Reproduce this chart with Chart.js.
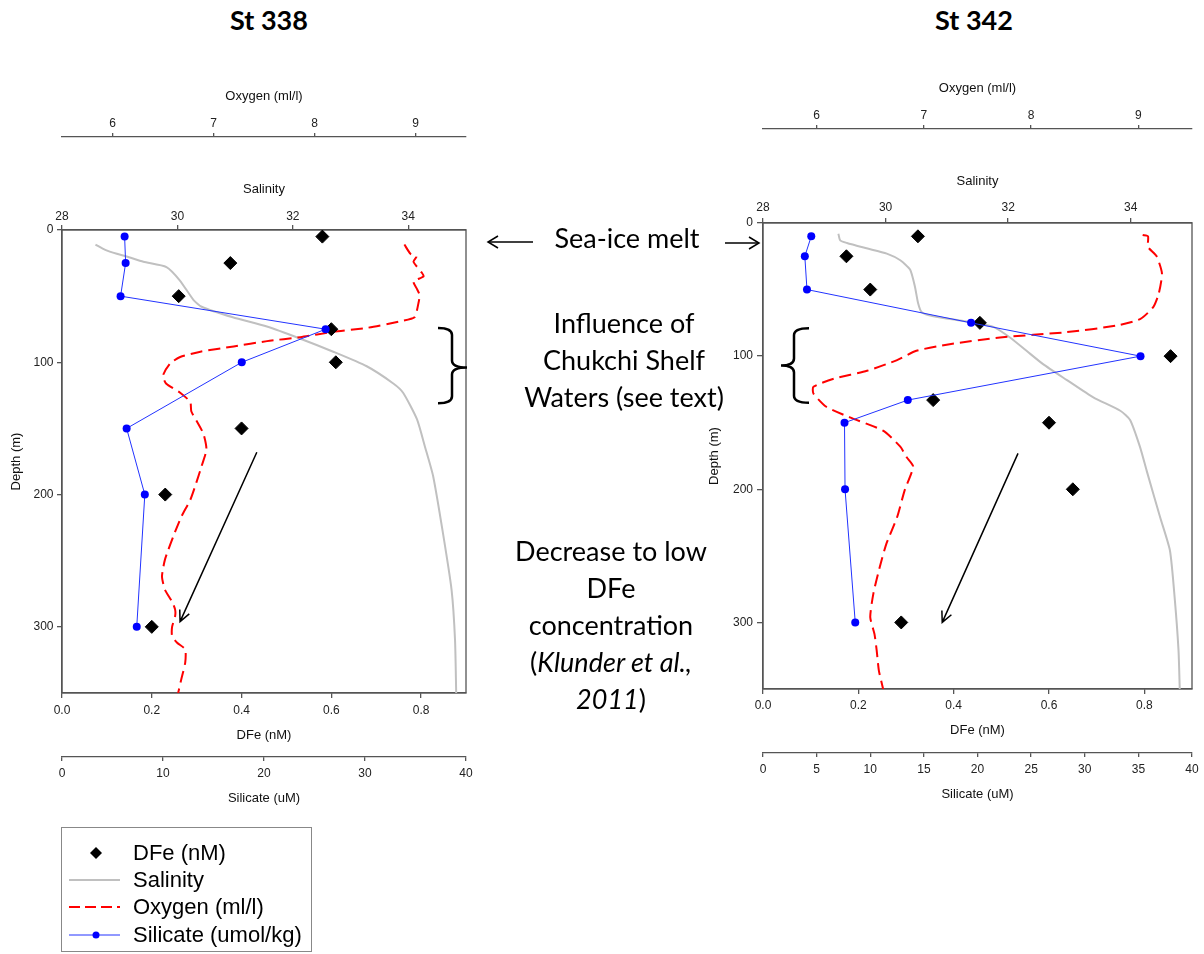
<!DOCTYPE html>
<html>
<head>
<meta charset="utf-8">
<script src="https://cdn.jsdelivr.net/npm/chart.js@4.4.1/dist/chart.umd.min.js"></script>
<style>
  body { margin: 0; background: #fff; width: 1204px; height: 954px; position: relative; overflow: hidden; font-family: 'Liberation Sans', Arial, sans-serif; }
  canvas { position: absolute; top: 0; }
  .st { position: absolute; top: 4px; width: 200px; text-align: center; font: bold 27px Lato, sans-serif; line-height: 32px; }
  .note { position: absolute; width: 320px; text-align: center; font: 27px Lato, sans-serif; line-height: 37px; color: #000; }
  #legend { position: absolute; left: 61px; top: 827px; width: 251px; height: 125px; border: 1px solid #888; box-sizing: border-box; }
  #legend .row { position: absolute; left: 0; height: 27px; width: 250px; }
  #legend svg { position: absolute; left: 6px; top: 0; }
  #legend span { position: absolute; left: 71px; top: 1px; font-size: 22px; line-height: 26px; color: #000; }
  #over { position: absolute; left: 0; top: 0; pointer-events: none; }
</style>
</head>
<body>
<div class="st" style="left:169px">St 338</div>
<div class="st" style="left:874px">St 342</div>

<canvas id="c338" width="490" height="820" style="left:0"></canvas>
<canvas id="c342" width="504" height="820" style="left:700px"></canvas>

<div class="note" style="left:467px; top:219px">Sea-ice melt</div>
<div class="note" style="left:464px; top:304px">Influence of<br>Chukchi Shelf<br>Waters (see text)</div>
<div class="note" style="left:451px; top:532px">Decrease to low<br>DFe<br>concentration<br>(<i>Klunder et al.,</i><br><i>2011</i>)</div>

<svg id="over" width="1204" height="954">
  <g stroke="#000" stroke-width="1.5" fill="none">
    <line x1="533" y1="242" x2="488" y2="242"/>
    <polyline points="498,236 488,242 498,248"/>
    <line x1="725" y1="243" x2="759" y2="243"/>
    <polyline points="749,237 759,243 749,249"/>
  </g>
</svg>

<div id="legend">
  <div class="row" style="top:11px">
    <svg width="60" height="27"><path d="M28 8 L34 14 L28 20 L22 14 Z" fill="#000"/></svg>
    <span>DFe (nM)</span>
  </div>
  <div class="row" style="top:38px">
    <svg width="60" height="27"><line x1="1" y1="14" x2="52" y2="14" stroke="#c0c0c0" stroke-width="2"/></svg>
    <span>Salinity</span>
  </div>
  <div class="row" style="top:65px">
    <svg width="60" height="27"><line x1="1" y1="14" x2="52" y2="14" stroke="#ff0000" stroke-width="2" stroke-dasharray="11 5"/></svg>
    <span>Oxygen (ml/l)</span>
  </div>
  <div class="row" style="top:93px">
    <svg width="60" height="27"><line x1="1" y1="14" x2="52" y2="14" stroke="#2233ff" stroke-width="1"/><circle cx="28" cy="14" r="3.5" fill="#0000ff"/></svg>
    <span>Silicate (umol/kg)</span>
  </div>
</div>

<script>
// St 338 bottle samples
const depth338 = [5, 25, 50, 75, 100, 150, 200, 300];
const dfe338 = [0.58, 0.375, 0.26, 0.60, 0.61, 0.40, 0.23, 0.20];
const sil338 = [6.2, 6.3, 5.8, 26.1, 17.8, 6.4, 8.2, 7.4];

// St 338 CTD profiles
const salDepth338 = [11, 15, 18, 20, 24, 28, 38, 53, 58, 66, 73, 82, 92, 103, 116, 123, 143, 164, 186, 229, 272, 310, 350];
const sal338 = [28.58, 28.75, 28.95, 29.12, 29.41, 29.81, 30.04, 30.28, 30.42, 30.96, 31.55, 32.12, 32.70, 33.28, 33.74, 33.91, 34.15, 34.29, 34.43, 34.60, 34.75, 34.81, 34.83];
const oxyDepth338 = [11, 18, 20, 24, 32, 35, 39, 44, 49, 55, 66, 69, 74, 77, 81, 84, 88, 92, 96, 101, 110, 116, 123, 130, 137, 144, 154, 166, 179, 191, 204, 217, 232, 249, 262, 272, 281, 287, 292, 300, 307, 312, 317, 327, 340, 350];
const oxy338 = [8.89, 8.95, 9.01, 8.98, 9.06, 9.08, 8.98, 9.01, 9.04, 9.03, 8.99, 8.85, 8.52, 8.19, 7.86, 7.53, 7.20, 6.87, 6.67, 6.57, 6.50, 6.53, 6.67, 6.77, 6.78, 6.83, 6.90, 6.93, 6.88, 6.83, 6.77, 6.68, 6.60, 6.52, 6.49, 6.52, 6.59, 6.62, 6.62, 6.59, 6.59, 6.64, 6.72, 6.72, 6.68, 6.65];

// St 342 bottle samples
const depth342 = [10, 25, 50, 75, 100, 133, 150, 200, 300];
const dfe342 = [0.325, 0.175, 0.225, 0.455, 0.855, 0.357, 0.60, 0.65, 0.29];
const sil342 = [4.5, 3.9, 4.1, 19.4, 35.2, 13.5, 7.6, 7.65, 8.6];

// St 342 CTD profiles
const salDepth342 = [8, 13, 15, 19, 23, 28, 35, 48, 60, 67, 70, 74, 78, 86, 96, 106, 118, 131, 141, 148, 168, 186, 221, 246, 283, 321, 350];
const sal342 = [29.23, 29.26, 29.37, 29.69, 30.02, 30.24, 30.40, 30.48, 30.53, 30.59, 30.78, 31.32, 31.76, 32.03, 32.30, 32.57, 32.96, 33.39, 33.83, 33.99, 34.15, 34.26, 34.48, 34.64, 34.72, 34.78, 34.80];
const oxyDepth342 = [9, 10, 18, 25, 38, 53, 63, 72, 77, 82, 86, 91, 96, 103, 111, 117, 123, 128, 138, 146, 156, 168, 176, 183, 201, 221, 241, 258, 278, 296, 309, 321, 336, 350];
const oxy342 = [9.04, 9.09, 9.09, 9.17, 9.22, 9.19, 9.14, 9.02, 8.80, 8.33, 7.71, 7.24, 6.93, 6.75, 6.47, 6.16, 5.97, 5.97, 6.09, 6.31, 6.62, 6.78, 6.84, 6.90, 6.82, 6.75, 6.65, 6.59, 6.53, 6.50, 6.54, 6.56, 6.58, 6.62];

// tick labels
const oxyTicks = [6, 7, 8, 9];
const salTicks = [28, 30, 32, 34];
const dfeTicks = [0, 0.2, 0.4, 0.6, 0.8];
const silTicks338 = [0, 10, 20, 30, 40];
const silTicks342 = [0, 5, 10, 15, 20, 25, 30, 35, 40];
const depthTicks = [0, 100, 200, 300];

const pts = (xs, ys) => xs.map((x, i) => ({ x: x, y: ys[i] }));

function axis(pos, min, max, ticks, title, o) {
  return {
    type: 'linear', position: pos, min: min, max: max, reverse: !!o.reverse, weight: o.weight || 0,
    afterBuildTicks: s => { s.ticks = ticks.map(v => ({ value: v })); },
    afterFit: s => { if (pos === 'left') s.width = o.size; else s.height = o.size; },
    border: { color: '#555', width: 1.3 },
    grid: { drawOnChartArea: false, tickLength: o.tl, color: '#555', lineWidth: 1.3 },
    ticks: { padding: o.tp, color: '#222', font: { size: 12 }, callback: o.fmt || (v => v) },
    title: { display: true, text: title, color: '#111', font: { size: 13 }, padding: o.title }
  };
}

function arrowHead(ctx, x0, y0, x1, y1) {
  const a = Math.atan2(y1 - y0, x1 - x0), L = 12;
  ctx.beginPath();
  ctx.moveTo(x0, y0); ctx.lineTo(x1, y1);
  ctx.moveTo(x1 - L * Math.cos(a - 0.45), y1 - L * Math.sin(a - 0.45));
  ctx.lineTo(x1, y1);
  ctx.lineTo(x1 - L * Math.cos(a + 0.45), y1 - L * Math.sin(a + 0.45));
  ctx.stroke();
}

function brace(ctx, xEnd, xBody, xTip, yTop, yMid, yBot) {
  const r = 7;
  ctx.beginPath();
  ctx.moveTo(xEnd, yTop);
  ctx.quadraticCurveTo(xBody, yTop, xBody, yTop + r);
  ctx.lineTo(xBody, yMid - r);
  ctx.quadraticCurveTo(xBody, yMid, xTip, yMid);
  ctx.quadraticCurveTo(xBody, yMid, xBody, yMid + r);
  ctx.lineTo(xBody, yBot - r);
  ctx.quadraticCurveTo(xBody, yBot, xEnd, yBot);
  ctx.stroke();
}

const notes = {
  id: 'notes',
  beforeDatasetsDraw(chart) {
    const { ctx, chartArea: a } = chart;
    ctx.save();
    ctx.strokeStyle = '#555'; ctx.lineWidth = 1.3;
    ctx.strokeRect(a.left, a.top, a.right - a.left, a.bottom - a.top);
    ctx.restore();
  },
  afterDatasetsDraw(chart, args, o) {
    const { ctx, chartArea: a, scales } = chart;
    const x = scales.dfe, y = scales.depth;
    ctx.save();
    ctx.strokeStyle = '#000'; ctx.lineWidth = 1.5;
    const [d0, z0, d1, z1] = o.arrow;
    arrowHead(ctx, x.getPixelForValue(d0), y.getPixelForValue(z0), x.getPixelForValue(d1), y.getPixelForValue(z1));
    ctx.lineWidth = 2.5;
    const b = o.brace;
    const yt = y.getPixelForValue(b.top), ym = y.getPixelForValue(b.mid), yb = y.getPixelForValue(b.bottom);
    if (b.side === 'right') brace(ctx, a.right - 28, a.right - 14, a.right + 1, yt, ym, yb);
    else brace(ctx, a.left + 46, a.left + 31, a.left + 18, yt, ym, yb);
    ctx.restore();
  }
};

function makeChart(id, d, L) {
  return new Chart(document.getElementById(id), {
    type: 'line',
    data: {
      datasets: [
        {
          label: 'Silicate (umol/kg)', data: pts(d.sil, d.depth), xAxisID: 'sil', yAxisID: 'depth', order: 1,
          borderColor: '#2233ff', borderWidth: 1, pointRadius: 4, pointBackgroundColor: '#0000ff', pointBorderColor: '#0000ff', pointBorderWidth: 0
        },
        {
          label: 'DFe (nM)', data: pts(d.dfe, d.depth), xAxisID: 'dfe', yAxisID: 'depth', order: 2, showLine: false,
          pointStyle: 'rectRot', pointRadius: 6.5, pointBackgroundColor: '#000', pointBorderColor: '#000', pointBorderWidth: 1
        },
        {
          label: 'Oxygen (ml/l)', data: pts(d.oxy, d.oxyDepth), xAxisID: 'oxy', yAxisID: 'depth', order: 3,
          borderColor: '#ff0000', borderWidth: 2, borderDash: [12, 6], pointRadius: 0, tension: 0.2
        },
        {
          label: 'Salinity', data: pts(d.sal, d.salDepth), xAxisID: 'sal', yAxisID: 'depth', order: 4,
          borderColor: '#c0c0c0', borderWidth: 2, pointRadius: 0, tension: 0.2
        }
      ]
    },
    options: {
      responsive: false, animation: false,
      layout: { padding: { top: L.padTop, bottom: L.padBottom, left: 0, right: L.padRight } },
      plugins: { legend: { display: false }, tooltip: { enabled: false }, notes: d.notes },
      scales: {
        depth: axis('left', 0, 350, depthTicks, 'Depth (m)', { reverse: true, size: L.yW, tl: L.depth[0], tp: L.depth[1], title: { top: L.depth[2], bottom: 0 } }),
        sal: axis('top', 28, 35, salTicks, 'Salinity', { weight: 0, size: L.salH, tl: L.sal[0], tp: L.sal[1], title: { top: L.sal[2], bottom: 0 } }),
        oxy: axis('top', 5.5, 9.5, oxyTicks, 'Oxygen (ml/l)', { weight: 1, size: L.oxyH, tl: L.oxy[0], tp: L.oxy[1], title: { top: L.oxy[2], bottom: 0 } }),
        dfe: axis('bottom', 0, 0.9, dfeTicks, 'DFe (nM)', { weight: 0, size: L.dfeH, tl: L.dfe[0], tp: L.dfe[1], title: { top: 0, bottom: L.dfe[2] }, fmt: v => v.toFixed(1) }),
        sil: axis('bottom', 0, 40, d.silTicks, 'Silicate (uM)', { weight: 1, size: L.silH, tl: L.sil[0], tp: L.sil[1], title: { top: 0, bottom: L.sil[2] } })
      }
    },
    plugins: [notes]
  });
}

makeChart('c338', {
  depth: depth338, dfe: dfe338, sil: sil338,
  sal: sal338, salDepth: salDepth338, oxy: oxy338, oxyDepth: oxyDepth338, silTicks: silTicks338,
  notes: { arrow: [0.434, 168, 0.263, 296], brace: { side: 'right', top: 74, mid: 104, bottom: 131 } }
}, {
  padTop: 70, padBottom: 3, padRight: 24, yW: 62, oxyH: 67, salH: 93, dfeH: 64, silH: 60,
  depth: [5, 3.5, 9], sal: [5, 1, 44.5], oxy: [4, 2.5, 19], dfe: [5, 5, 14], sil: [4, 5, 11]
});

makeChart('c342', {
  depth: depth342, dfe: dfe342, sil: sil342,
  sal: sal342, salDepth: salDepth342, oxy: oxy342, oxyDepth: oxyDepth342, silTicks: silTicks342,
  notes: { arrow: [0.535, 173, 0.376, 300], brace: { side: 'left', top: 79, mid: 107, bottom: 135 } }
}, {
  padTop: 62, padBottom: 7, padRight: 12, yW: 63, oxyH: 67, salH: 94, dfeH: 64, silH: 60,
  depth: [6, 4, 7], sal: [5, 3.5, 45], oxy: [4, 2, 19], dfe: [5, 4.5, 15], sil: [4, 5, 11]
});
</script>
</body>
</html>
